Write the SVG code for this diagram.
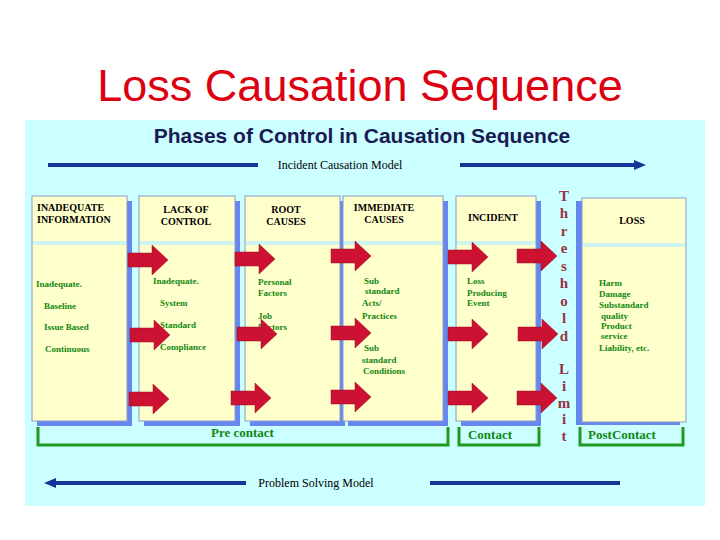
<svg xmlns="http://www.w3.org/2000/svg" width="720" height="540" viewBox="0 0 720 540">
<style>
.box{fill:#ffffcc;stroke:#8899cc;stroke-width:1}
.sh{fill:#6688ee}
.band{fill:#ccf4f0}
.hd{font-family:"Liberation Serif",serif;font-weight:bold;font-size:10px;fill:#000}
.it{font-family:"Liberation Serif",serif;font-weight:bold;font-size:9px;fill:#118811}
.th{font-family:"Liberation Serif",serif;font-weight:bold;font-size:15px;fill:#993344;text-anchor:middle}
.gl{font-family:"Liberation Serif",serif;font-weight:bold;font-size:13px;fill:#118811}
.br{fill:none;stroke:#229922;stroke-width:3}
.ml{font-family:"Liberation Serif",serif;font-size:12px;fill:#000;text-anchor:middle}
.ln{stroke:#1a3399;stroke-width:4}
</style>
<defs>
<path id="ar" d="M0,-7 L24,-7 L24,-15 L40,0 L24,15 L24,7 L0,7 Z" fill="#cc1133" stroke="#991122" stroke-width="0.5"/>
</defs>
<rect width="720" height="540" fill="#fff"/>
<rect x="25" y="120" width="680" height="386" fill="#ccffff"/>
<text x="360" y="101" font-family="Liberation Sans,sans-serif" font-size="45" fill="#dd0011" text-anchor="middle">Loss Causation Sequence</text>
<text x="362" y="143" font-family="Liberation Sans,sans-serif" font-size="21" font-weight="bold" fill="#1a1a55" text-anchor="middle">Phases of Control in Causation Sequence</text>
<g id="topline">
<line class="ln" x1="48" y1="165" x2="258" y2="165"/>
<line class="ln" x1="460" y1="165" x2="638" y2="165"/>
<path d="M634,160 L646,165 L634,170 Z" fill="#1a3399"/>
<text class="ml" x="340" y="169">Incident Causation Model</text>
</g>
<g id="botline">
<line class="ln" x1="52" y1="483" x2="246" y2="483"/>
<line class="ln" x1="430" y1="483" x2="620" y2="483"/>
<path d="M56,478 L44,483 L56,488 Z" fill="#1a3399"/>
<text class="ml" x="316" y="487">Problem Solving Model</text>
</g>
<g id="n1"><rect class="sh" x="37" y="201" width="95" height="225"/><rect class="box" x="32" y="196" width="95" height="225"/><rect class="band" x="33" y="241" width="93" height="4"/>
<text class="hd" x="37" y="211">INADEQUATE</text><text class="hd" x="37" y="223">INFORMATION</text>
<text class="it" x="36" y="287">Inadequate.</text><text class="it" x="44" y="309">Baseline</text><text class="it" x="44" y="330">Issue Based</text><text class="it" x="45" y="352">Continuous</text></g>
<g id="n2"><rect class="sh" x="144" y="201" width="96" height="225"/><rect class="box" x="139" y="196" width="96" height="225"/><rect class="band" x="140" y="241" width="94" height="4"/>
<text class="hd" x="186" y="213" text-anchor="middle">LACK OF</text><text class="hd" x="186" y="225" text-anchor="middle">CONTROL</text>
<text class="it" x="153" y="284">Inadequate.</text><text class="it" x="160" y="306">System</text><text class="it" x="160" y="328">Standard</text><text class="it" x="160" y="350">Compliance</text></g>
<g id="n3"><rect class="sh" x="250" y="201" width="95" height="225"/><rect class="box" x="245" y="196" width="95" height="225"/><rect class="band" x="246" y="241" width="93" height="4"/>
<text class="hd" x="286" y="213" text-anchor="middle">ROOT</text><text class="hd" x="286" y="225" text-anchor="middle">CAUSES</text>
<text class="it" x="258" y="285">Personal</text><text class="it" x="258" y="296">Factors</text><text class="it" x="258" y="319">Job</text><text class="it" x="258" y="330">Factors</text></g>
<g id="n4"><rect class="sh" x="348" y="201" width="100" height="225"/><rect class="box" x="343" y="196" width="100" height="225"/><rect class="band" x="344" y="241" width="98" height="4"/>
<text class="hd" x="384" y="211" text-anchor="middle">IMMEDIATE</text><text class="hd" x="384" y="223" text-anchor="middle">CAUSES</text>
<text class="it" x="364" y="284">Sub</text><text class="it" x="365" y="294">standard</text><text class="it" x="362" y="306">Acts/</text><text class="it" x="362" y="319">Practices</text>
<text class="it" x="364" y="351">Sub</text><text class="it" x="362" y="363">standard</text><text class="it" x="363" y="374">Conditions</text></g>
<g id="n5"><rect class="sh" x="461" y="201" width="80" height="225"/><rect class="box" x="456" y="196" width="80" height="225"/><rect class="band" x="457" y="241" width="78" height="4"/>
<text class="hd" x="493" y="221" text-anchor="middle">INCIDENT</text>
<text class="it" x="467" y="284">Loss</text><text class="it" x="467" y="296">Producing</text><text class="it" x="467" y="306">Event</text></g>
<g id="n6"><rect class="sh" x="576" y="201" width="104" height="224"/><rect class="box" x="582" y="198" width="104" height="224"/><rect class="band" x="583" y="243" width="102" height="4"/>
<text class="hd" x="632" y="224" text-anchor="middle">LOSS</text>
<text class="it" x="599" y="286">Harm</text><text class="it" x="599" y="297">Damage</text><text class="it" x="599" y="308">Substandard</text><text class="it" x="601" y="319">quality</text><text class="it" x="601" y="329">Product</text><text class="it" x="601" y="339">service</text><text class="it" x="599" y="351">Liability, etc.</text></g>
<g id="threshold">
<text class="th" x="564" y="201">T</text><text class="th" x="564" y="218">h</text><text class="th" x="564" y="236">r</text><text class="th" x="564" y="253">e</text><text class="th" x="564" y="271">s</text><text class="th" x="564" y="288">h</text><text class="th" x="564" y="306">o</text><text class="th" x="564" y="323">l</text><text class="th" x="564" y="341">d</text>
<text class="th" x="564" y="374">L</text><text class="th" x="564" y="391">i</text><text class="th" x="564" y="408">m</text><text class="th" x="564" y="424">i</text><text class="th" x="564" y="441">t</text>
</g>
<g id="connectors">
<use href="#ar" x="128" y="260"/><use href="#ar" x="235" y="259"/><use href="#ar" x="331" y="256"/><use href="#ar" x="448" y="257"/><use href="#ar" x="517" y="256"/>
<use href="#ar" x="130" y="335"/><use href="#ar" x="237" y="334"/><use href="#ar" x="331" y="333"/><use href="#ar" x="448" y="334"/><use href="#ar" x="518" y="334"/>
<use href="#ar" x="129" y="399"/><use href="#ar" x="231" y="398"/><use href="#ar" x="331" y="397"/><use href="#ar" x="448" y="398"/><use href="#ar" x="517" y="398"/>
</g>
<g id="brackets">
<path class="br" d="M38,427 V445 H448 V427"/>
<path class="br" d="M459,427 V445 H539 V427"/>
<path class="br" d="M580,427 V445 H683 V427"/>
<text class="gl" x="211" y="437">Pre   contact</text>
<text class="gl" x="490" y="439" text-anchor="middle">Contact</text>
<text class="gl" x="622" y="439" text-anchor="middle">PostContact</text>
</g>
</svg>
